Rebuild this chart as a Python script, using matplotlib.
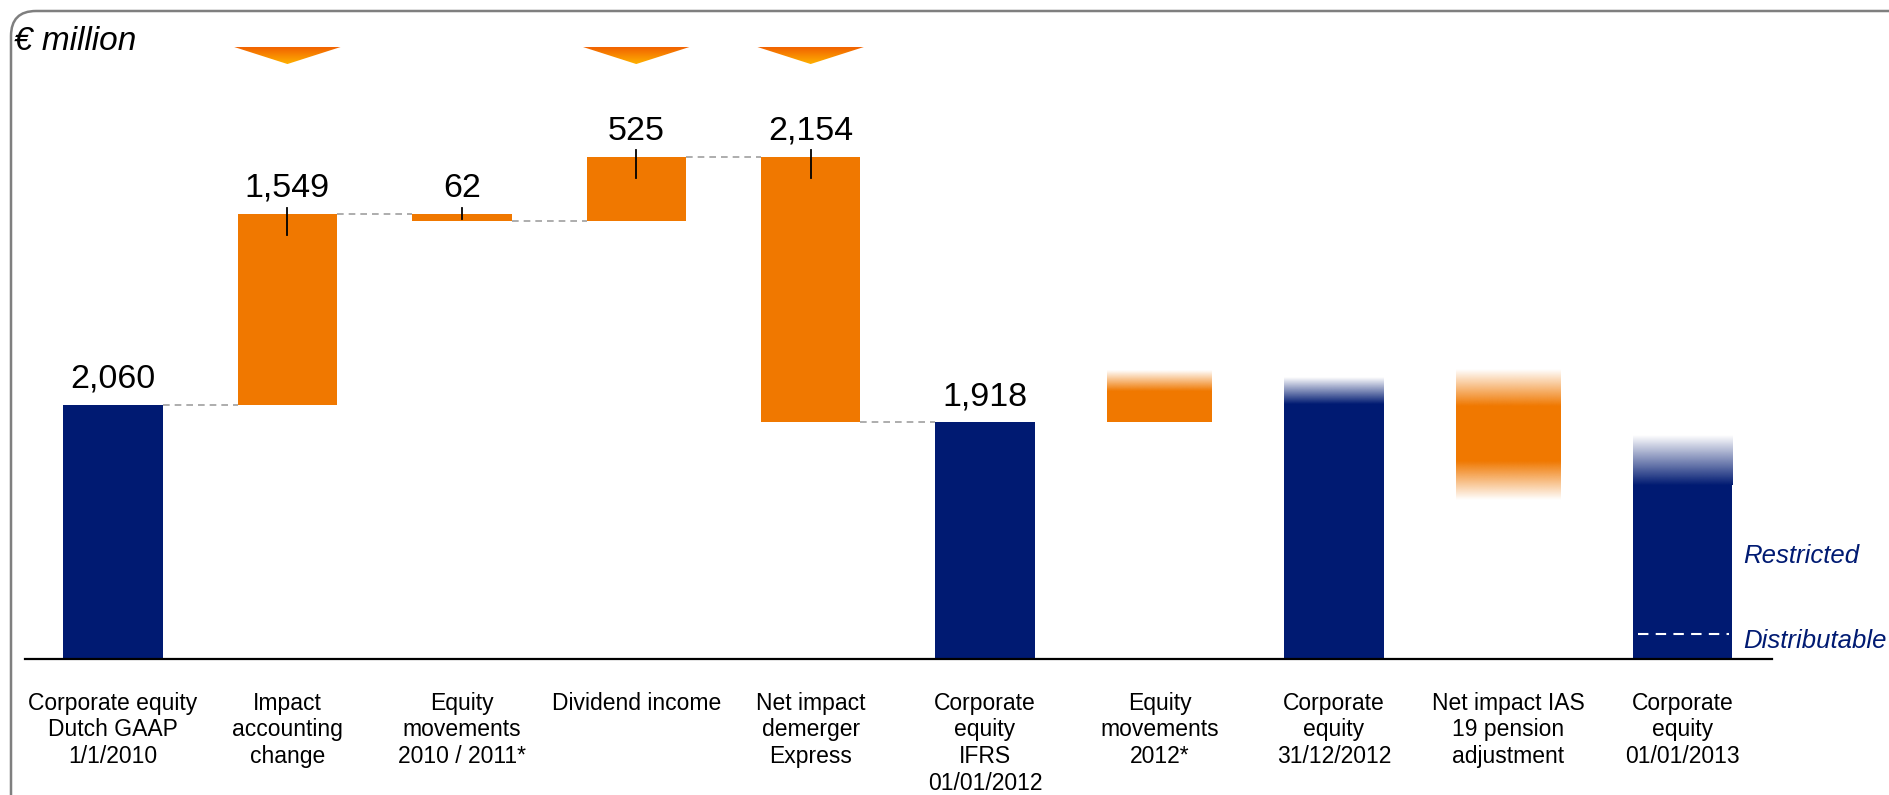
import numpy as np
import matplotlib.pyplot as plt
from matplotlib.patches import FancyBboxPatch, Polygon
from matplotlib.colors import to_rgb
from matplotlib.transforms import IdentityTransform

plt.rcParams['font.family'] = ['Liberation Sans', 'DejaVu Sans']

categories = ['Corporate equity\nDutch GAAP\n1/1/2010',
              'Impact\naccounting\nchange',
              'Equity\nmovements\n2010 / 2011*',
              'Dividend income',
              'Net impact\ndemerger\nExpress',
              'Corporate\nequity\nIFRS\n01/01/2012',
              'Equity\nmovements\n2012*',
              'Corporate\nequity\n31/12/2012',
              'Net impact IAS\n19 pension\nadjustment',
              'Corporate\nequity\n01/01/2013']

start_value = 2060
moves = [1549, -62, 525, -2154]
move_labels = ['1,549', '62', '525', '2,154']
ifrs_value = 1918

# the 2012/2013 part is shown blurred: solid part + faded ends
fade_cats = [6, 7, 8, 9]
fade_kind = ['orange', 'navy', 'orange', 'navy']
fade_solid_low = [1918, 0, 1605, 0]
fade_solid_high = [2172, 2067, 2050, 1410]
fade_top = [2342, 2285, 2342, 1815]
fade_bottom = [None, None, 1289, None]

arrow_cats = [1, 3, 4]
distributable_level = 203

NAVY = '#001a72'
ORANGE = '#f07800'
colors = {'navy': NAVY, 'orange': ORANGE}

W = 0.57


def fade(ax, x, w, y0, y1, color, up):
    img = np.zeros((256, 1, 4))
    img[..., :3] = to_rgb(color)
    img[:, 0, 3] = np.linspace(1, 0, 256) if up else np.linspace(0, 1, 256)
    ax.imshow(img, extent=[x - w / 2, x + w / 2, y0, y1], origin='lower',
              aspect='auto', interpolation='bilinear', zorder=2)


fig = plt.figure(figsize=(18.89, 7.95), dpi=100)
ax = fig.add_axes([0, 0, 1, 1])
ax.axis('off')

xs = np.arange(len(categories))

# waterfall
levels = start_value + np.cumsum(moves)
prev = np.concatenate(([start_value], levels[:-1]))

ax.bar(0, start_value, width=W, color=NAVY, zorder=2)
ax.bar(5, ifrs_value, width=W, color=NAVY, zorder=2)
ax.text(0, start_value + 140, '2,060', ha='center', va='baseline', fontsize=24.5)
ax.text(5, ifrs_value + 135, '1,918', ha='center', va='baseline', fontsize=24.5)

for i, (m, lab) in enumerate(zip(moves, move_labels)):
    x = i + 1
    lo, hi = min(prev[i], levels[i]), max(prev[i], levels[i])
    ax.bar(x, hi - lo, bottom=lo, width=W, color=ORANGE, zorder=2)
    ax.plot([x, x], [hi + 50, max(hi - 170, lo + 20)], color='black', lw=1.3, zorder=3)
    ax.text(x, hi + 138, lab, ha='center', va='baseline', fontsize=24.5)

# connectors
conn = [start_value] + list(levels)
for i, lvl in enumerate(conn):
    ax.plot([i + W / 2, i + 1 - W / 2], [lvl, lvl], color='#a0a0a0',
            ls=(0, (4, 3)), lw=1.2, zorder=1)

# blurred bars
for c, k, lo, hi, top, bot in zip(fade_cats, fade_kind, fade_solid_low,
                                  fade_solid_high, fade_top, fade_bottom):
    w = 0.6 if k == 'orange' else W
    ax.bar(c, hi - lo, bottom=lo, width=w, color=colors[k], zorder=2)
    fade(ax, c, w, hi, top, colors[k], True)
    if bot is not None:
        fade(ax, c, w, bot, lo, colors[k], False)

ax.plot([9 - W / 2 + 0.03, 9 + W / 2 - 0.02], [distributable_level] * 2,
        color='white', ls=(0, (5, 3.5)), lw=1.5, zorder=3)
ax.text(9.346, 778, 'Restricted', color=NAVY, fontsize=18.5, style='italic', va='baseline')
ax.text(9.346, 89, 'Distributable', color=NAVY, fontsize=18.5, style='italic', va='baseline')

# gradient arrows on top
grad = np.zeros((256, 1, 3))
c_top = np.array([240, 92, 0]) / 255
c_tip = np.array([255, 178, 0]) / 255
grad[:, 0, :] = np.linspace(c_tip, c_top, 256)
for c in arrow_cats:
    tri = Polygon([[c - 0.305, 4960], [c + 0.305, 4960], [c, 4822]],
                  closed=True, fc='none', ec='none')
    ax.add_patch(tri)
    im = ax.imshow(grad, extent=[c - 0.305, c + 0.305, 4822, 4960],
                   origin='lower', aspect='auto', zorder=3)
    im.set_clip_path(tri)

# baseline and category labels
ax.plot([-0.505, 9.51], [0, 0], color='black', lw=1.6, zorder=3)
for x, lab in zip(xs, categories):
    ax.text(x, -265, lab, ha='center', va='top', fontsize=16.5, linespacing=1.2)

ax.set_xlim(-0.648, 10.183)
ax.set_ylim(-1102, 5341)

fig.text(14 / 1889, 1 - 50 / 795, '€ million', fontsize=24, style='italic', va='baseline')

frame = FancyBboxPatch((11, -60), 1950, 844, boxstyle='round,pad=0,rounding_size=25',
                       transform=IdentityTransform(), ec='#7f7f7f', fc='none', lw=1.8)
fig.add_artist(frame)

fig.savefig('out.png', dpi=100)
